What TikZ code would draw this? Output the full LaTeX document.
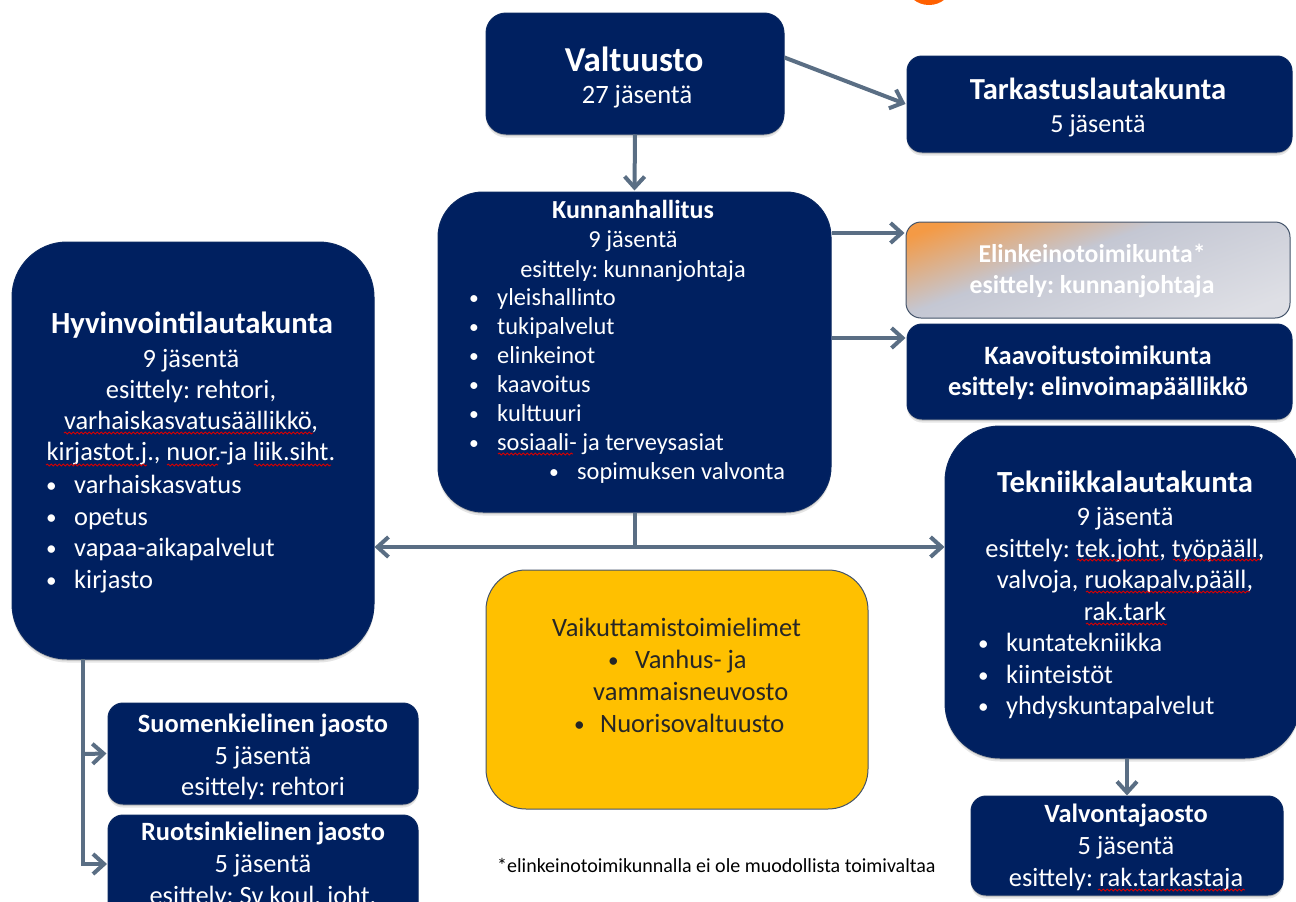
\documentclass[tikz,border=0pt]{standalone}
\usepackage{fontspec}
\usepackage{graphicx}
\setmainfont{Carlito}
\usetikzlibrary{arrows.meta,shadows,decorations.pathmorphing,calc}
\definecolor{navy}{HTML}{002060}
\definecolor{edge}{HTML}{44546A}
\definecolor{conn}{HTML}{5A6E84}
\definecolor{amber}{HTML}{FFC000}
\definecolor{gorange}{HTML}{F49A45}
\definecolor{gmid}{HTML}{C4C7D3}
\definecolor{glight}{HTML}{DEDFE5}
\pgfdeclarehorizontalshading{elgrad}{100bp}{color(0bp)=(gorange);color(22bp)=(gorange);color(43bp)=(gmid);color(76bp)=(glight);color(100bp)=(glight)}
\newcommand{\fsz}[2]{\fontsize{#1pt}{#2pt}\selectfont\frenchspacing}
\newcommand{\bl}[1]{\makebox[#1pt][l]{\hspace*{1pt}\raisebox{1pt}{\scalebox{.8}{•}}}}
\tikzset{
  x=1pt,y=-1pt,
  box/.style={draw=navy!85!edge,line width=1pt,fill=navy,inner sep=0pt,
    general shadow={shadow xshift=0pt,shadow yshift=-3.5pt,fill=black,opacity=.1},
    general shadow={shadow xshift=0pt,shadow yshift=-1.5pt,fill=black,opacity=.2}},
  tx/.style={text=white,inner sep=0pt,align=center},
  lst/.style={text=white,inner sep=0pt,align=left,anchor=north west},
  link/.style={draw=conn,line width=4pt,-{Straight Barb[length=11pt,width=20pt,line width=4pt]}},
  plain/.style={draw=conn,line width=4pt},
  both/.style={draw=conn,line width=4pt,{Straight Barb[length=11pt,width=20pt,line width=4pt]}-{Straight Barb[length=11pt,width=20pt,line width=4pt]}},
  spell/.style={draw=red!85!black,line width=.9pt,decorate,decoration={snake,amplitude=.9pt,segment length=4pt}}
}
\newcommand{\rbox}[6]{% name x1 y1 x2 y2 radius
  \node[box,rounded corners=#6pt,minimum width=#4pt-#2pt,minimum height=#5pt-#3pt] (#1) at ({(#2+#4)/2},{(#3+#5)/2}) {};}
\begin{document}
\begin{tikzpicture}
\useasboundingbox (0,0) rectangle (1296,902);
\clip (0,0) rectangle (1296,902);
\fill[white] (0,0) rectangle (1296,902);
\fill[orange!75!red] (929,-14) ellipse [x radius=22,y radius=19];
% boxes
\rbox{val}{486}{13}{784}{134}{20}
\rbox{tark}{907}{56}{1292}{152}{15}
\rbox{kh}{438}{192}{831}{512}{45}
\rbox{kaav}{907}{324}{1292}{419}{15}
\rbox{hyv}{12}{242}{374}{659}{55}
\rbox{tek}{945}{426}{1300}{758}{55}
\rbox{suo}{108}{703}{418}{804}{15}
\rbox{ruo}{108}{815}{418}{917}{15}
\rbox{vvo}{971}{796}{1283}{895}{15}
\node[draw=edge,line width=1pt,fill=amber,inner sep=0pt,rounded corners=40pt,minimum width=382pt,minimum height=239pt] (vai) at (677,689.5) {};
\node[draw=edge,line width=1pt,inner sep=0pt,rounded corners=15pt,minimum width=384pt,minimum height=96pt,shading=elgrad,shading angle=-70] (eli) at (1098,270) {};
% connectors
\draw[link] ([yshift=16pt]val.east) -- ([xshift=-1pt]tark.west);
\draw[link] (val.south) -- ([yshift=1pt]kh.north);
\coordinate (kh1) at (kh.east |- 0,233);
\coordinate (el1) at (eli.west |- 0,233);
\draw[link] (kh1) -- ([xshift=-1pt]el1);
\coordinate (kh2) at (kh.east |- 0,338);
\coordinate (ka2) at (kaav.west |- 0,338);
\draw[link] (kh2) -- ([xshift=-1pt]ka2);
\coordinate (mid) at (kh.south |- 0,547);
\draw[both] (hyv.east |- mid) -- (tek.west |- mid);
\draw[plain] (kh.south) -- (mid);
\coordinate (hb) at (83,659);
\draw[plain] (hb) -- (83,864);
\draw[link] (83,754) -- ([xshift=-1pt]suo.west);
\draw[link] (81,864) -- ([xshift=-1pt]108,864);
\draw[link] (tek.south -| 1127,0) -- (vvo.north -| 1127,0);
% text
\node[tx,font=\fsz{35}{36}\bfseries] (t1) at (634,59) {Valtuusto};
\node[tx,font=\fsz{26.5}{30}] (t2) at (637,97) {27 jäsentä};
\node[tx,font=\fsz{30.6}{32}\bfseries] (t3) at (1098,89) {Tarkastuslautakunta};
\node[tx,font=\fsz{26}{30}] (t4) at (1098,126) {5 jäsentä};
\node[tx,font=\fsz{24.4}{29.3},anchor=north] (t5) at (633,200) {\textbf{\fontsize{26}{29.3}\selectfont Kunnanhallitus}\\9 jäsentä\\esittely: kunnanjohtaja};
\node[lst,font=\fsz{24.4}{29}] (t6) at (468,288) {\bl{29}yleishallinto\\\bl{29}tukipalvelut\\\bl{29}elinkeinot\\\bl{29}kaavoitus\\\bl{29}kulttuuri\\\bl{29}sosiaali- ja terveysasiat\\\hspace*{80pt}\bl{29}sopimuksen valvonta};
\node[tx,font=\fsz{25.7}{30.5}\bfseries] (t7) at (1092,271) {Elinkeinotoimikunta*\\esittely: kunnanjohtaja};
\node[tx,font=\fsz{26.5}{30.5}\bfseries] (t8) at (1098,373) {Kaavoitustoimikunta\\esittely: elinvoimapäällikkö};
\node[tx,font=\fsz{30.7}{31}\bfseries] (t9) at (192,325) {Hyvinvointilautakunta};
\node[tx,font=\fsz{26.4}{31},anchor=north] (t10) at (191,349) {9 jäsentä\\esittely: rehtori,\\varhaiskasvatusäällikkö,\\kirjastot.j., nuor.-ja liik.siht.};
\node[lst,font=\fsz{26.4}{31.7}] (t11) at (45,475) {\bl{29}varhaiskasvatus\\\bl{29}opetus\\\bl{29}vapaa-aikapalvelut\\\bl{29}kirjasto};
\node[tx,font=\fsz{30.7}{31}\bfseries] (t12) at (1125,482) {Tekniikkalautakunta};
\node[tx,font=\fsz{26.5}{31.6},anchor=north] (t13) at (1125,507) {9 jäsentä\\esittely: tek.joht, työpääll,\\valvoja, ruokapalv.pääll,\\rak.tark};
\node[lst,font=\fsz{26.4}{31.5}] (t14) at (977,633) {\bl{29}kuntatekniikka\\\bl{29}kiinteistöt\\\bl{29}yhdyskuntapalvelut};
\node[lst,text=black!85,font=\fsz{26.5}{32}] (t15) at (552,618) {Vaikuttamistoimielimet\\\hspace*{55pt}\bl{28}Vanhus- ja\\\hspace*{41pt}vammaisneuvosto\\\hspace*{21pt}\bl{27}Nuorisovaltuusto};
\node[tx,font=\fsz{26.4}{31.5},anchor=north] (t16) at (263,714) {\textbf{Suomenkielinen jaosto}\\5 jäsentä\\esittely: rehtori};
\node[tx,font=\fsz{26.4}{32},anchor=north] (t17) at (263,822) {\textbf{Ruotsinkielinen jaosto}\\5 jäsentä\\esittely: Sv koul. joht.};
\node[tx,font=\fsz{26.4}{32},anchor=north] (t18) at (1126,804) {\textbf{Valvontajaosto}\\5 jäsentä\\esittely: rak.tarkastaja};
\node[inner sep=0pt,text=black,font=\fsz{20}{22},anchor=west] (t19) at (497,865) {*elinkeinotoimikunnalla ei ole muodollista toimivaltaa};
% spell-check underlines
\draw[spell] (64,433) -- (313,433);
\draw[spell] (46,465) -- (147,465);
\draw[spell] (167,465) -- (218,465);
\draw[spell] (254,465) -- (331,465);
\draw[spell] (498,454) -- (573,454);
\draw[spell] (1077,560) -- (1160,560);
\draw[spell] (1173,560) -- (1260,560);
\draw[spell] (1086,592) -- (1250,592);
\draw[spell] (1086,624) -- (1167,624);
\draw[spell] (1098,890) -- (1245,890);
\end{tikzpicture}
\end{document}
